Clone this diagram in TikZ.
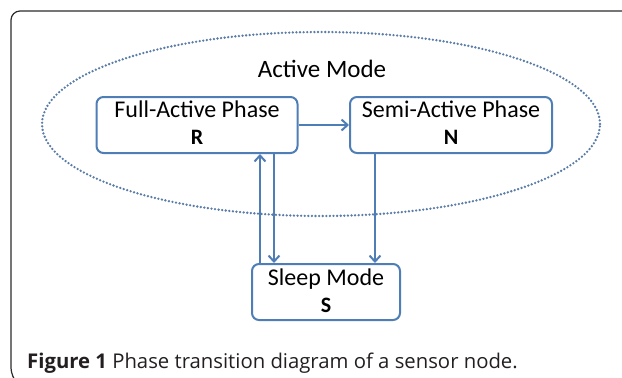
\documentclass[tikz,border=0pt]{standalone}
\usepackage{fontspec}
\setmainfont{Carlito}
\newfontfamily\capfont{Open Sans}
\usetikzlibrary{arrows.meta}
\definecolor{lineblue}{HTML}{4F7DB5}
\definecolor{dotblue}{HTML}{5A7CA6}
\definecolor{frame}{HTML}{2B2B2B}
\definecolor{captext}{HTML}{231F20}
\tikzset{
  phasebox/.style={draw=lineblue, line width=2pt, rounded corners=7pt, inner sep=0pt},
  boxtext/.style={anchor=base, inner sep=0pt, font=\fontsize{24}{28}\selectfont, text=black},
  boxletter/.style={anchor=base, inner sep=0pt, font=\fontsize{22}{26}\selectfont\bfseries, text=black},
  flow/.style={draw=lineblue, line width=2pt, -{Straight Barb[length=6pt,width=11pt,line width=2pt]}},
  modering/.style={draw=dotblue, line width=2.6pt, line cap=round, dash pattern=on 0pt off 3.6pt}
}
\begin{document}
\begin{tikzpicture}[x=1pt,y=1pt]
\useasboundingbox (0,0) rectangle (622,-378);
% frame
\draw[frame, line width=1.2pt, rounded corners=9pt] (622,-11) -- (11,-11) -- (11,-377) -- (13,-379);
% active mode ellipse
\draw[modering] (321,-124) ellipse [x radius=279, y radius=92];
\node[anchor=base, inner sep=0pt, font=\fontsize{25}{30}\selectfont] (am) at (322,-77) {Active Mode};
% boxes
\node[phasebox, minimum width=201pt, minimum height=56pt] (full) at (197,-125) {};
\node[phasebox, minimum width=202pt, minimum height=56pt] (semi) at (451,-125) {};
\node[phasebox, minimum width=148pt, minimum height=56pt] (sleep) at (326,-292) {};
% box texts
\node[boxtext] (fullt) at ([yshift=-21pt]full.north) {Full-Active Phase};
\node[boxletter] (fulll) at ([yshift=-48pt]full.north) {R};
\node[boxtext] (semit) at ([yshift=-21pt]semi.north) {Semi-Active Phase};
\node[boxletter] (semil) at ([yshift=-48pt]semi.north) {N};
\node[boxtext] (sleept) at ([yshift=-22pt]sleep.north) {Sleep Mode};
\node[boxletter] (sleepl) at ([yshift=-49pt]sleep.north) {S};
% connectors
\coordinate (xa) at (260,0);
\coordinate (xb) at (274,0);
\coordinate (xc) at (375,0);
\draw[flow] (full) -- (semi);
\draw[flow] (sleep.north -| xa) -- (full.south -| xa);
\draw[flow] (full.south -| xb) -- (sleep.north -| xb);
\draw[flow] (semi.south -| xc) -- (sleep.north -| xc);
% caption
\node[anchor=base west, inner sep=0pt, text=captext, font=\capfont\fontsize{20.3}{24}\selectfont] (cap) at (27,-368) {\textbf{Figure 1} Phase transition diagram of a sensor node.};
\end{tikzpicture}
\end{document}
